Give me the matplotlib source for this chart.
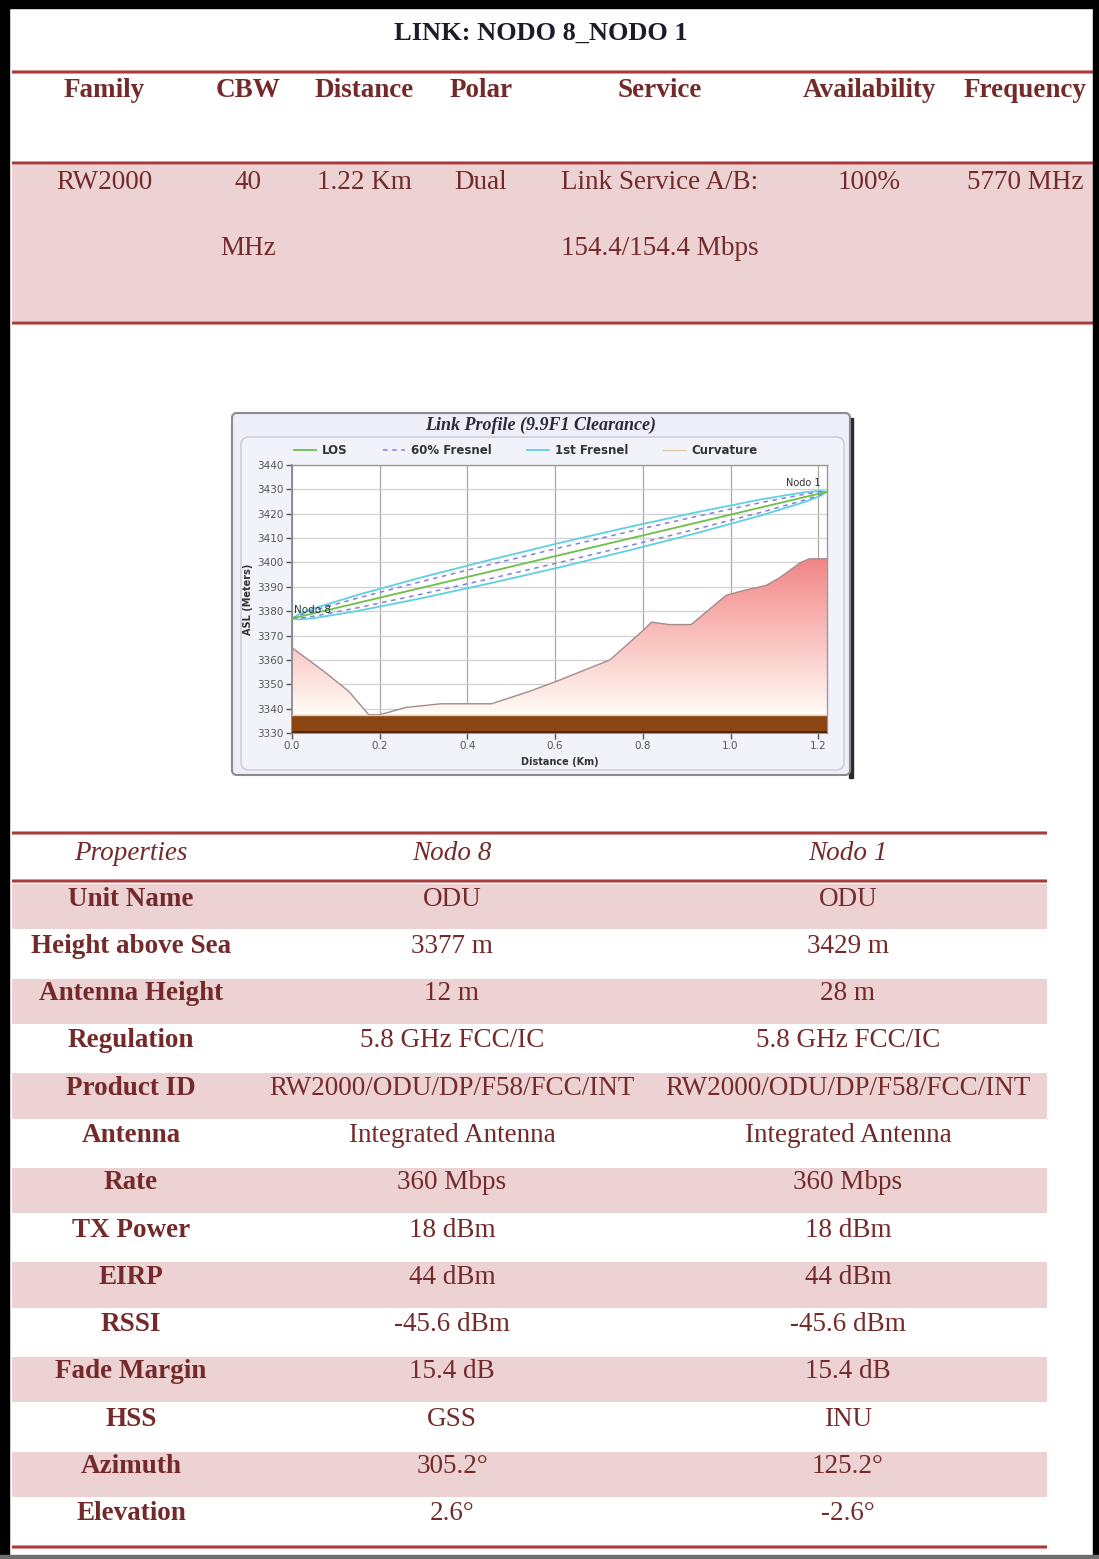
import numpy as np
import matplotlib
matplotlib.use("Agg")
import matplotlib.pyplot as plt
from matplotlib.patches import Rectangle, FancyBboxPatch

# ---------------- data ----------------
doc_title = "LINK: NODO 8_NODO 1"
link_headers = ["Family", "CBW", "Distance", "Polar", "Service", "Availability", "Frequency"]
link_values_line1 = ["RW2000", "40", "1.22 Km", "Dual", "Link Service A/B:", "100%", "5770 MHz"]
link_values_line2 = ["", "MHz", "", "", "154.4/154.4 Mbps", "", ""]

prop_header = ["Properties", "Nodo 8", "Nodo 1"]
properties = ["Unit Name", "Height above Sea", "Antenna Height", "Regulation", "Product ID",
              "Antenna", "Rate", "TX Power", "EIRP", "RSSI", "Fade Margin", "HSS",
              "Azimuth", "Elevation"]
nodo8_values = ["ODU", "3377 m", "12 m", "5.8 GHz FCC/IC", "RW2000/ODU/DP/F58/FCC/INT",
                "Integrated Antenna", "360 Mbps", "18 dBm", "44 dBm", "-45.6 dBm",
                "15.4 dB", "GSS", "305.2°", "2.6°"]
nodo1_values = ["ODU", "3429 m", "28 m", "5.8 GHz FCC/IC", "RW2000/ODU/DP/F58/FCC/INT",
                "Integrated Antenna", "360 Mbps", "18 dBm", "44 dBm", "-45.6 dBm",
                "15.4 dB", "INU", "125.2°", "-2.6°"]

chart_title = "Link Profile (9.9F1 Clearance)"
terrain_dist = [0.0, 0.075, 0.13, 0.175, 0.20, 0.26, 0.34, 0.455, 0.54, 0.60, 0.725,
                0.80, 0.82, 0.86, 0.91, 0.99, 1.03, 1.08, 1.11, 1.16, 1.18, 1.22]
terrain_elev = [3365, 3355, 3347, 3337.5, 3337.5, 3340.5, 3342, 3342, 3347, 3351, 3360,
                3372, 3375.5, 3374.5, 3374.5, 3386.5, 3388.5, 3390.5, 3393.5, 3400, 3401.5, 3401.5]
los_dist = [0.0, 1.22]
los_elev = [3377, 3429]
fresnel_dist = [0.0, 0.015, 0.05, 0.15, 0.30, 0.45, 0.61, 0.77, 0.92, 1.07, 1.17, 1.205, 1.22]
fresnel1_radius = [0.0, 1.0, 2.0, 3.3, 4.3, 4.8, 5.0, 4.8, 4.3, 3.3, 2.0, 1.0, 0.0]
fresnel60_radius = [0.0, 0.6, 1.2, 2.0, 2.6, 2.9, 3.0, 2.9, 2.6, 2.0, 1.2, 0.6, 0.0]
curvature_elev = [3337.5, 3337.5]
ground_bottom = 3330
x_ticks = [0.0, 0.2, 0.4, 0.6, 0.8, 1.0, 1.2]
y_ticks = [3330, 3340, 3350, 3360, 3370, 3380, 3390, 3400, 3410, 3420, 3430, 3440]
node_labels = ["Nodo 8", "Nodo 1"]

# ---------------- figure ----------------
W, H = 1099, 1559
fig = plt.figure(figsize=(W / 100, H / 100), dpi=100)
bg = fig.add_axes([0, 0, 1, 1])
bg.set_xlim(0, W)
bg.set_ylim(H, 0)
bg.axis("off")

SERIF = "Liberation Serif"
TXT = "#742a2a"
PINK = "#ecd2d2"
FS = 19.5


def red_rule(y, x0, x1):
    bg.add_patch(Rectangle((x0, y - 2.2), x1 - x0, 4.4, color="#dc9e9e", lw=0, zorder=2))
    bg.plot([x0, x1], [y, y], color="#a73a3a", lw=1.6, zorder=3, solid_capstyle="butt")


# outer border
bg.add_patch(Rectangle((0, 0), W, 8, color="black", zorder=5))
bg.add_patch(Rectangle((0, 0), 9, H, color="black", zorder=5))
bg.add_patch(Rectangle((1093, 0), 6, H, color="black", zorder=5))
bg.add_patch(Rectangle((0, 1555), W, 4, color="#6e6e6e", zorder=5))

# --- top table ---
bg.text(541, 33, doc_title, fontsize=19, fontweight="bold", family=SERIF,
        color="#1c1c28", ha="center", va="center")
bg.add_patch(Rectangle((12, 165), 1083, 156, color=PINK, lw=0, zorder=1))
red_rule(72, 12, 1095)
red_rule(163, 12, 1095)
red_rule(323, 12, 1095)
col_x = [104, 248, 364, 481, 660, 869, 1025]
for x, h, v1, v2 in zip(col_x, link_headers, link_values_line1, link_values_line2):
    bg.text(x, 90, h, fontsize=FS, fontweight="bold", family=SERIF, color=TXT,
            ha="center", va="center")
    bg.text(x, 182, v1, fontsize=FS, family=SERIF, color=TXT, ha="center", va="center")
    if v2:
        bg.text(x, 248, v2, fontsize=FS, family=SERIF, color=TXT, ha="center", va="center")

# --- lower table ---
pcol_x = [131, 452, 848]
for x, h in zip(pcol_x, prop_header):
    bg.text(x, 853, h, fontsize=FS, fontstyle="italic", family=SERIF, color=TXT,
            ha="center", va="center")
row_top0, row_h = 884, 47.3
for i, (p, a, b) in enumerate(zip(properties, nodo8_values, nodo1_values)):
    top = row_top0 + i * row_h
    if i % 2 == 0:
        bg.add_patch(Rectangle((12, top), 1035, row_h - 2, color=PINK, lw=0, zorder=1))
    yc = top + 15
    bg.text(pcol_x[0], yc, p, fontsize=FS, fontweight="bold", family=SERIF, color=TXT,
            ha="center", va="center")
    bg.text(pcol_x[1], yc, a, fontsize=FS, family=SERIF, color=TXT, ha="center", va="center")
    bg.text(pcol_x[2], yc, b, fontsize=FS, family=SERIF, color=TXT, ha="center", va="center")
red_rule(833, 12, 1047)
red_rule(881, 12, 1047)
red_rule(1547, 12, 1047)

# --- chart panel ---
bg.add_patch(Rectangle((849, 418), 4, 360, color="#2a2a2a", zorder=1))
bg.add_patch(FancyBboxPatch((232, 413), 618, 362, boxstyle="round,pad=0,rounding_size=5",
                            facecolor="#eeeef8", edgecolor="#8c8c8c", lw=1.5, zorder=2))
bg.add_patch(FancyBboxPatch((241, 437), 603, 333, boxstyle="round,pad=0,rounding_size=8",
                            facecolor="#f2f2fa", edgecolor="#c9c9d6", lw=1.0, zorder=3))
bg.text(541, 425, chart_title, fontsize=13, fontweight="bold", fontstyle="italic",
        family=SERIF, color="#2a2a3a", ha="center", va="center", zorder=4)

# --- chart axes ---
ax = fig.add_axes([292 / W, 1 - 733 / H, 535 / W, 268 / H])
ax.set_facecolor("white")
xmax = 1.22
ymin, ymax = 3330, 3440

# gradient fill under terrain
yy = np.linspace(ymin, ymax, 300)
t = np.clip((yy - 3338) / (3402 - 3338), 0, 1)
c_top = np.array([0.95, 0.52, 0.52])
c_bot = np.array([1.0, 0.985, 0.96])
cols = c_bot + (c_top - c_bot) * t[:, None]
img = np.tile(cols[:, None, :], (1, 2, 1))
im = ax.imshow(img, extent=[0, xmax, ymin, ymax], origin="lower", aspect="auto",
               zorder=1, interpolation="bilinear")
poly = ax.fill_between(terrain_dist, terrain_elev, ymin, color="none", lw=0)
im.set_clip_path(poly.get_paths()[0], transform=ax.transData)
ax.plot(terrain_dist, terrain_elev, color="#a28c8c", lw=1.0, zorder=3)

# ground band
ax.axhspan(ymin, curvature_elev[0], color="#8b4513", zorder=4, lw=0)
ax.plot([0, xmax], [ymin + 0.4, ymin + 0.4], color="#4a2408", lw=1.2, zorder=5)
curv_line, = ax.plot(los_dist, curvature_elev, color="#e8c8a8", lw=1.0, zorder=5,
                     label="Curvature")

# LOS & fresnel
center = np.interp(fresnel_dist, los_dist, los_elev)
r1 = np.array(fresnel1_radius)
r6 = np.array(fresnel60_radius)
f1, = ax.plot(fresnel_dist, center + r1, color="#5fd0e0", lw=1.3, zorder=6, label="1st Fresnel")
ax.plot(fresnel_dist, center - r1, color="#5fd0e0", lw=1.3, zorder=6)
f6, = ax.plot(fresnel_dist, center + r6, color="#8080e0", lw=1.1, ls=(0, (3, 3)), zorder=6,
              label="60% Fresnel")
ax.plot(fresnel_dist, center - r6, color="#8080e0", lw=1.1, ls=(0, (3, 3)), zorder=6)
los, = ax.plot(los_dist, los_elev, color="#6cbf4a", lw=1.3, zorder=7, label="LOS")

ax.text(0.004, 3380.5, node_labels[0], fontsize=7.5, color="#1d3f3f", ha="left", va="center",
        zorder=8)
ax.text(1.205, 3432.5, node_labels[1], fontsize=7, color="#333333", ha="right", va="center",
        zorder=8)

ax.set_xlim(0, xmax)
ax.set_ylim(ymin, ymax)
ax.set_xticks(x_ticks)
ax.set_xticklabels([f"{v:.1f}" for v in x_ticks])
ax.set_yticks(y_ticks)
ax.set_yticklabels([str(v) for v in y_ticks])
ax.tick_params(axis="both", labelsize=7.5, colors="#555555", length=4, width=1,
               direction="out", pad=2)
ax.grid(True, axis="x", color="#a8a8a8", lw=0.9, zorder=0)
ax.grid(True, axis="y", color="#d0d0d0", lw=0.9, zorder=0)
ax.set_axisbelow(True)
for side in ["left", "bottom"]:
    ax.spines[side].set_color("#8a8a8a")
    ax.spines[side].set_linewidth(1.3)
for side in ["top", "right"]:
    ax.spines[side].set_color("#9a9a9a")
    ax.spines[side].set_linewidth(1.0)
ax.set_xlabel("Distance (Km)", fontsize=7, fontweight="bold", color="#333333", labelpad=4)
ax.set_ylabel("ASL (Meters)", fontsize=7, fontweight="bold", color="#333333", labelpad=3)

leg = ax.legend(handles=[los, f6, f1, curv_line], ncol=4, loc="center",
                bbox_to_anchor=(0.437, 1.055), frameon=False,
                handlelength=1.85, handletextpad=0.5, columnspacing=3.0,
                prop={"weight": "bold", "size": 8.5})
for txt in leg.get_texts():
    txt.set_color("#333333")

fig.savefig("out.png", dpi=100)
